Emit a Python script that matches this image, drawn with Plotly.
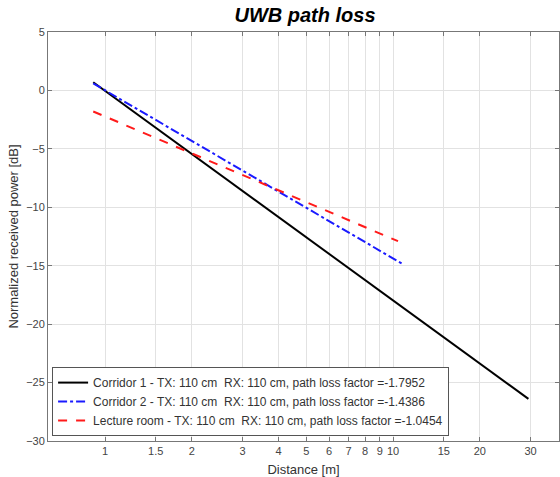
import plotly.graph_objects as go

# Data (end points of the fitted lines)
corr1_x = [0.91, 29.5]
corr1_y = [0.7, -26.4]
corr2_x = [0.91, 10.7]
corr2_y = [0.6, -14.8]
lect_x = [0.91, 10.4]
lect_y = [-1.8, -12.9]

names = [
    "Corridor 1 - TX: 110 cm  RX: 110 cm, path loss factor =-1.7952",
    "Corridor 2 - TX: 110 cm  RX: 110 cm, path loss factor =-1.4386",
    "Lecture room - TX: 110 cm  RX: 110 cm, path loss factor =-1.0454",
]

x_ticks = [1, 1.5, 2, 3, 4, 5, 6, 7, 8, 9, 10, 15, 20, 30]
x_ticktext = ["1", "1.5", "2", "3", "4", "5", "6", "7", "8", "9", "10", "15", "20", "30"]
y_ticks = [-30, -25, -20, -15, -10, -5, 0, 5]

FONT = "Liberation Sans, Arial, sans-serif"

W, H = 560, 477

fig = go.Figure()
fig.add_trace(go.Scatter(x=corr1_x, y=corr1_y, mode="lines", name=names[0],
                         line=dict(color="black", width=2, dash="solid")))
fig.add_trace(go.Scatter(x=corr2_x, y=corr2_y, mode="lines", name=names[1],
                         line=dict(color="#1a1aff", width=2, dash="dashdot")))
fig.add_trace(go.Scatter(x=lect_x, y=lect_y, mode="lines", name=names[2],
                         line=dict(color="#ff1a1a", width=2, dash="dash")))

axis_common = dict(
    showline=True, linecolor="#777", linewidth=1, mirror="ticks",
    ticks="inside", ticklen=4, tickcolor="#777",
    showgrid=True, gridcolor="#e2e2e2", gridwidth=1,
    zeroline=False, automargin=False,
    tickfont=dict(family=FONT, size=11, color="#444"),
)

fig.update_layout(
    width=W, height=H,
    paper_bgcolor="white", plot_bgcolor="white",
    margin=dict(l=48, r=1, t=32, b=36),
    title=dict(text="<b><i>UWB path loss</i></b>", x=305 / W, xanchor="center",
               y=1 - 15 / H, yanchor="middle", yref="container",
               font=dict(family=FONT, size=20, color="black")),
    xaxis=dict(type="log", range=[-0.198, 1.576], tickvals=x_ticks, ticktext=x_ticktext,
               title=dict(text="Distance [m]", font=dict(family=FONT, size=13, color="#333")),
               **axis_common),
    yaxis=dict(range=[-30, 5], tickvals=y_ticks,
               title=dict(text="Normalized received power [dB]", standoff=4,
                          font=dict(family=FONT, size=13, color="#333")),
               **axis_common),
    legend=dict(x=0.008, y=0.012, xanchor="left", yanchor="bottom",
                bgcolor="white", bordercolor="#555", borderwidth=1,
                font=dict(family=FONT, size=12, color="#333"),
                tracegroupgap=0, itemwidth=30),
    showlegend=True,
)

# Remove the browser's default 8px body margin so the figure fills the window
fig.write_html("out.html", config={"displayModeBar": False},
               post_script="document.body.style.margin='0';")
